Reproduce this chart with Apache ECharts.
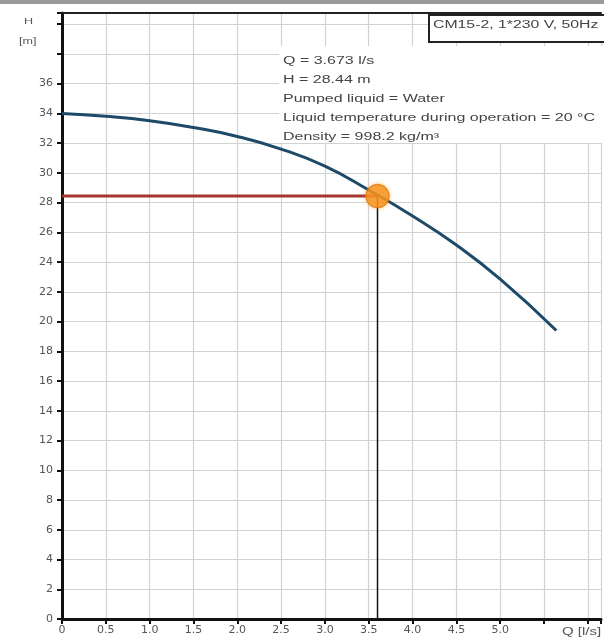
<!DOCTYPE html>
<html>
<head>
<meta charset="utf-8">
<script src="https://cdn.jsdelivr.net/npm/echarts@6/dist/echarts.min.js"></script>
<style>
  html, body { margin: 0; padding: 0; background: #fff; }
  #chart { width: 604px; height: 641px; }
</style>
</head>
<body>
<div id="chart"></div>
<script>
// pump curve
const flowQ = [0, 0.5, 1.0, 1.5, 2.0, 2.5, 3.0, 3.5, 4.0, 4.5, 5.0, 5.64]
const headH = [34.0, 33.8, 33.5, 33.05, 32.45, 31.6, 30.45, 28.85, 27.1, 25.15, 22.85, 19.4]

// duty point (drawn where the picture shows it)
const dutyQ = 3.6
const dutyH = 28.44

const xTickLabels = ['0', '0.5', '1.0', '1.5', '2.0', '2.5', '3.0', '3.5', '4.0', '4.5', '5.0']
const infoLines = [
  'Q = 3.673 l/s',
  'H = 28.44 m',
  'Pumped liquid = Water',
  'Liquid temperature during operation = 20 °C',
  'Density = 998.2 kg/m³'
]
const pumpTitle = 'CM15-2, 1*230 V, 50Hz'

const chart = echarts.init(document.getElementById('chart'))

const labelColor = '#555'
const font = 'Liberation Sans, Arial, sans-serif'
const axisFont = 'DejaVu Sans, sans-serif'

const option = {
  animation: false,
  grid: { left: 62, top: 13, width: 544, bottom: 22 },
  xAxis: [
    {
      type: 'value',
      min: 0,
      max: 6.15,
      interval: 0.5,
      axisLine: { lineStyle: { color: '#111', width: 3 } },
      axisTick: { length: 5, lineStyle: { color: '#111', width: 2 } },
      axisLabel: {
        color: labelColor,
        fontFamily: axisFont,
        fontSize: 11,
        margin: 6,
        formatter: (v) => {
          const i = Math.round(v * 2)
          return i < xTickLabels.length ? xTickLabels[i] : ''
        }
      },
      splitLine: { show: true, lineStyle: { color: '#d2d2d2', width: 1.2 } }
    },
    {
      type: 'value',
      position: 'top',
      min: 0,
      max: 6.15,
      axisLine: { show: true, lineStyle: { color: '#222', width: 2 } },
      axisTick: { show: false },
      axisLabel: { show: false },
      splitLine: { show: false }
    }
  ],
  yAxis: {
    type: 'value',
    min: 0,
    max: 40.75,
    interval: 2,
    axisLine: { show: true, lineStyle: { color: '#111', width: 3 } },
    axisTick: { show: true, length: 5, lineStyle: { color: '#111', width: 2 } },
    axisLabel: {
      color: labelColor,
      fontFamily: axisFont,
      fontSize: 11,
      margin: 9,
      formatter: (v) => (v <= 36 ? String(v) : '')
    },
    splitLine: { show: true, lineStyle: { color: '#d2d2d2', width: 1.2 } }
  },
  graphic: [
    { type: 'rect', left: 0, top: 0, z: 100, shape: { width: 604, height: 4 }, style: { fill: '#9a9a9a' } },
    { type: 'text', left: 24, top: 17, z: 100, scaleX: 1.4, style: { text: 'H', fill: labelColor, font: '9px ' + font } },
    { type: 'text', left: 19, top: 37, z: 100, scaleX: 1.4, style: { text: '[m]', fill: labelColor, font: '9px ' + font } },
    { type: 'text', left: 562, top: 627, z: 100, scaleX: 1.5, style: { text: 'Q [l/s]', fill: labelColor, font: '10px ' + font } },
    // white panel behind the info text
    { type: 'rect', left: 279, top: 46, z: 90, shape: { width: 330, height: 97 }, style: { fill: '#fff' } },
    { type: 'rect', left: 428, top: 14, z: 100, shape: { width: 190, height: 27 }, style: { fill: '#fff', stroke: '#222', lineWidth: 2 } },
    { type: 'text', x: 433, y: 20, z: 101, scaleX: 1.58, style: { text: pumpTitle, fill: '#444', font: '10px ' + font } },
    {
      type: 'text',
      x: 283,
      y: 52,
      z: 100,
      scaleX: 1.6,
      style: {
        text: infoLines.join('\n'),
        fill: '#444',
        font: '10px ' + font,
        lineHeight: 19
      }
    }
  ],
  series: [
    {
      name: 'head',
      type: 'line',
      data: [[0, dutyH], [dutyQ, dutyH]],
      symbol: 'none',
      lineStyle: { color: '#a3362f', width: 3 },
      z: 3
    },
    {
      name: 'drop',
      type: 'line',
      data: [[dutyQ, dutyH], [dutyQ, 0]],
      symbol: 'none',
      lineStyle: { color: '#111', width: 1.5 },
      z: 3
    },
    {
      name: 'curve',
      type: 'line',
      data: flowQ.map((q, i) => [q, headH[i]]),
      smooth: 0.5,
      symbol: 'none',
      lineStyle: { color: '#1d4a68', width: 3 },
      z: 4
    },
    {
      name: 'duty',
      type: 'scatter',
      data: [[dutyQ, dutyH]],
      symbolSize: 23,
      itemStyle: {
        color: '#f7931e',
        borderColor: '#e57a10',
        borderWidth: 1.5,
        shadowColor: 'rgba(247,147,30,0.5)',
        shadowBlur: 4
      },
      z: 5
    }
  ]
}

chart.setOption(option)
</script>
</body>
</html>
